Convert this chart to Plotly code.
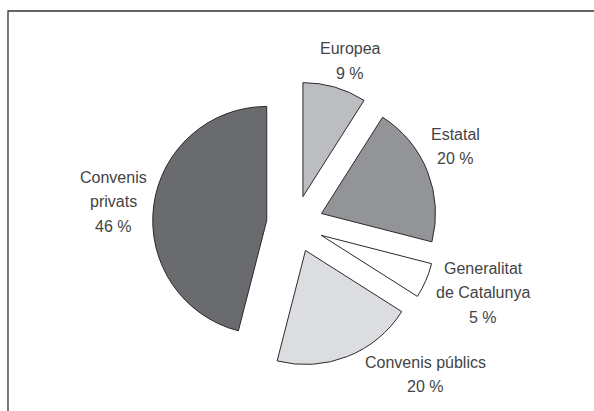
import plotly.graph_objects as go

# Data
labels = ["Europea", "Estatal", "Generalitat de Catalunya", "Convenis públics", "Convenis privats"]
label_lines = [["Europea"], ["Estatal"], ["Generalitat", "de Catalunya"], ["Convenis públics"], ["Convenis", "privats"]]
values = [9, 20, 5, 20, 46]
colors = ["#bcbdc1", "#939498", "#ffffff", "#dcdde0", "#6a6b6f"]

# Label anchor positions in pixels (center x, first line y) – layout only
label_pos = [(350, 49), (455, 134), (483, 268), (425, 362), (113, 177)]
line_gap = 24.5

W, H = 594, 411
fig = go.Figure()
fig.add_trace(go.Pie(
    labels=labels,
    values=values,
    sort=False,
    direction="clockwise",
    rotation=0,
    pull=[0.25] * len(values),
    marker=dict(colors=colors, line=dict(color="#2a2a2a", width=1)),
    textinfo="none",
    hoverinfo="label+percent",
    showlegend=False,
    domain=dict(x=[(295 - 150) / W, (295 + 150) / W], y=[1 - 366.5 / H, 1 - 81.5 / H]),
))

annotations = []
for lines, v, (px, py) in zip(label_lines, values, label_pos):
    all_lines = lines + [f"{v} %"]
    for k, t in enumerate(all_lines):
        annotations.append(dict(
            x=px / W, y=1 - (py + k * line_gap) / H, xref="paper", yref="paper",
            text=t, showarrow=False, xanchor="center", yanchor="middle",
            font=dict(family="Liberation Sans, Arial, sans-serif", size=16, color="#444444"),
        ))

fig.update_layout(
    width=W, height=H,
    margin=dict(l=0, r=0, t=0, b=0),
    paper_bgcolor="white", plot_bgcolor="white",
    annotations=annotations,
    shapes=[dict(type="rect", xref="paper", yref="paper",
                 x0=8 / W, x1=1.05, y0=-0.05, y1=1 - 11 / H,
                 line=dict(color="#333333", width=1.3))],
)
fig.write_html("out.html", config={"displayModeBar": False},
               post_script="document.body.style.margin='0';")
